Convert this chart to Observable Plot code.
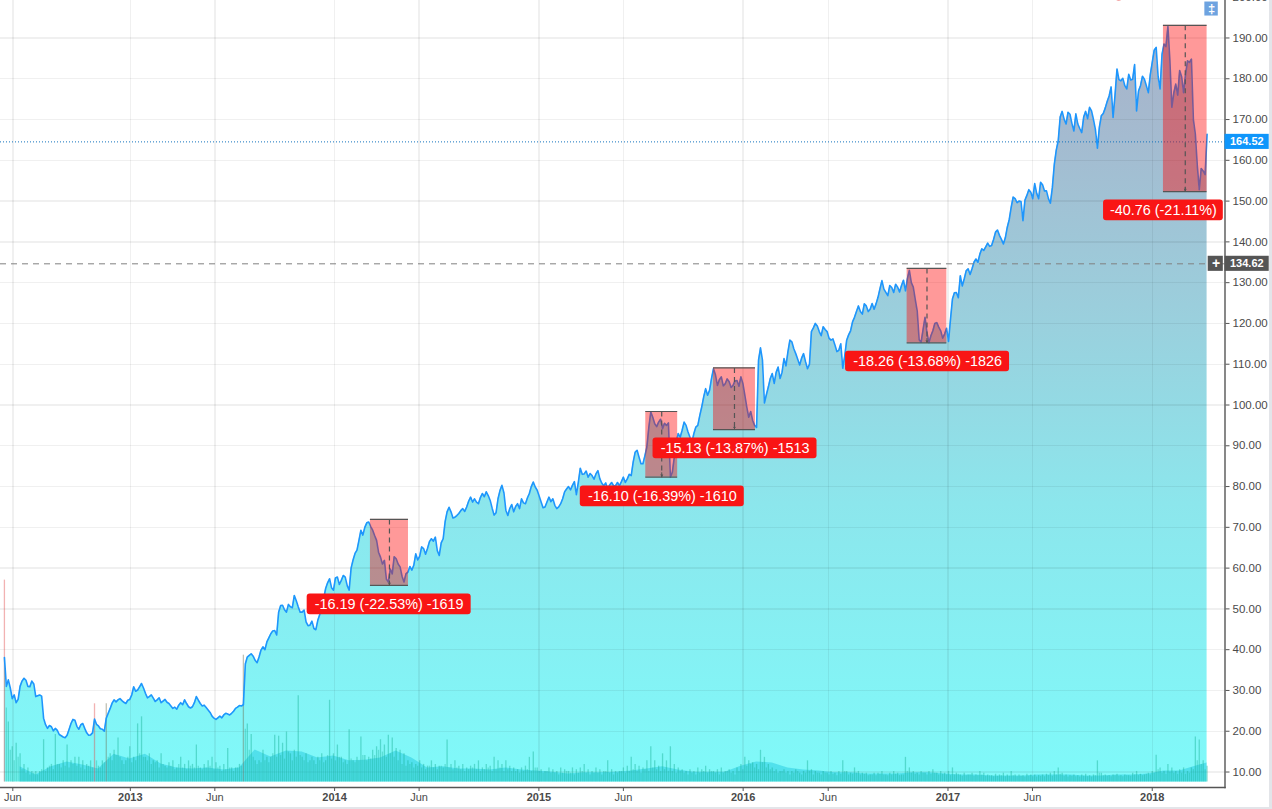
<!DOCTYPE html>
<html>
<head>
<meta charset="utf-8">
<style>
html,body{margin:0;padding:0;width:1272px;height:809px;overflow:hidden;background:#e3e5e9}
#panel{position:absolute;left:0;top:0;width:1268.5px;height:806.5px;background:#fff}
#chart{position:absolute;left:0;top:0;width:1272px;height:809px}
</style>
<script src="https://cdn.jsdelivr.net/npm/d3@7"></script>
<script src="https://cdn.jsdelivr.net/npm/@observablehq/plot@0.6"></script>
</head>
<body>
<div id="panel"></div>
<div id="chart"></div>
<script>
// Closes read at the start of each week, starting on the week of 2012-05-21
const closes = [
38.1,32.6,28.0,27.0,31.0,33.0,31.0,32.3,28.5,28.9,
23.2,20.7,21.1,20.7,19.2,18.6,19.0,21.9,22.7,20.5,
21.9,19.6,19.1,23.0,21.3,20.5,23.2,25.6,27.7,27.7,
27.5,26.8,27.8,30.9,30.1,31.7,29.3,28.5,28.1,27.7,
27.0,27.8,26.8,25.6,25.4,27.0,27.7,26.0,26.0,28.5,
26.8,26.4,25.2,23.7,22.9,23.7,24.0,24.2,24.4,25.6,
26.3,26.5,38.2,39.0,37.4,38.2,40.7,41.9,43.9,44.7,
49.2,50.9,49.2,50.5,53.3,50.5,49.2,46.8,46.0,45.2,
47.2,50.0,55.0,57.4,54.6,57.8,57.0,57.8,54.6,62.0,
64.4,69.3,70.0,71.3,69.3,66.8,62.7,61.9,56.6,58.6,
62.3,60.3,56.6,59.0,59.5,63.5,62.9,64.8,64.8,67.2,
67.6,63.1,67.2,73.8,73.8,72.5,73.4,74.6,75.0,77.4,
77.0,75.8,78.3,78.7,76.6,73.0,77.0,80.3,74.2,74.6,
73.8,75.8,77.0,75.8,78.3,81.1,79.1,76.2,75.0,77.4,
77.0,74.6,75.8,78.7,80.0,80.3,78.0,84.5,83.1,82.3,
82.7,83.1,81.9,80.2,79.4,81.0,80.2,80.2,82.3,81.9,
82.7,88.4,87.2,85.6,89.7,98.3,95.4,95.8,94.2,95.0,
82.3,87.2,93.0,93.8,95.0,92.1,93.0,95.0,99.5,104.0,
103.6,108.9,104.8,106.9,105.2,105.7,104.8,106.0,106.9,102.4,
97.0,96.2,94.5,114.0,100.5,104.4,107.7,108.0,106.5,111.4,
113.0,115.5,112.6,109.8,112.6,108.9,118.0,120.0,118.0,119.2,
118.0,115.9,114.7,113.4,109.0,115.9,118.2,121.5,124.3,122.3,
124.3,123.5,123.5,126.4,130.5,127.6,129.3,127.6,128.9,129.3,
128.0,133.0,128.9,123.1,115.4,121.5,115.3,118.2,120.2,118.2,
117.4,115.6,126.0,127.6,131.7,130.9,133.4,133.4,135.8,137.0,
137.9,139.7,139.1,142.4,141.6,139.5,143.6,148.5,150.6,150.0,
145.2,151.4,152.2,154.3,150.6,154.0,152.5,149.5,159.0,164.8,
172.0,168.9,171.3,167.2,168.9,166.8,172.0,173.0,170.0,163.0,
170.9,172.8,175.8,170.5,182.4,179.5,178.3,181.1,179.9,172.1,
178.3,179.9,176.6,184.0,187.7,177.5,188.5,192.8,173.0,178.7,
182.0,176.6,184.4,184.8,166.4,152.8,157.4,166.4];

// Closes read half a week later than each value above
const midCloses = [
31.0,30.6,28.9,27.8,32.3,32.5,30.9,31.6,28.7,28.6,
21.6,21.4,20.1,20.2,18.9,18.4,20.4,22.9,21.2,21.6,
20.7,19.0,19.6,21.7,20.6,20.0,24.4,26.9,27.2,28.0,
27.1,27.6,28.9,29.8,30.9,30.6,28.2,28.9,27.3,28.2,
27.4,27.1,26.2,25.9,26.4,26.5,26.8,25.7,27.0,27.6,
26.2,25.8,24.6,23.2,23.3,23.3,24.4,24.0,24.9,25.9,
26.2,36.5,38.6,38.4,36.8,39.9,40.0,42.9,44.6,43.6,
50.8,49.8,51.1,50.3,52.0,49.2,49.7,45.9,47.0,44.9,
48.6,52.6,56.4,55.2,57.6,56.0,58.2,55.7,60.0,63.6,
66.8,68.1,71.1,70.2,68.0,63.9,61.0,57.3,59.8,62.8,
61.0,58.0,58.6,60.4,60.7,62.0,65.2,63.4,66.5,66.6,
64.3,66.2,71.4,74.9,72.3,72.9,74.1,73.9,76.4,76.2,
76.2,77.3,77.5,77.8,74.7,73.6,79.0,78.5,72.9,75.6,
75.1,74.6,76.0,77.2,80.0,79.9,77.7,74.8,76.2,76.3,
75.4,75.0,77.0,79.4,79.2,81.2,81.0,83.0,83.8,83.2,
81.8,83.9,80.8,80.9,80.4,80.2,81.0,81.2,81.0,83.0,
86.0,88.9,85.6,87.6,94.5,97.0,94.7,96.5,95.5,95.6,
83.5,91.0,92.1,95.8,93.4,90.9,94.6,97.4,102.0,102.4,
106.5,107.4,106.2,104.7,106.4,104.3,105.9,104.6,105.3,99.5,
98.4,95.0,111.0,111.0,102.5,106.5,105.3,109.3,108.0,109.6,
115.9,113.8,111.2,111.5,110.6,110.0,118.9,119.4,117.0,118.5,
116.4,116.2,113.1,115.0,112.0,117.2,120.4,122.9,122.9,124.8,
122.9,124.9,124.8,128.5,128.4,126.8,128.8,129.6,127.7,130.6,
131.0,130.0,125.9,116.0,118.5,117.7,117.0,120.0,119.1,116.4,
118.8,121.0,127.5,126.3,129.2,132.9,132.0,135.0,135.0,138.3,
138.8,138.9,140.6,142.9,140.6,141.0,145.5,151.0,149.6,149.9,
150.2,152.8,150.6,151.9,154.6,152.5,150.6,153.3,162.5,170.6,
170.1,171.8,169.0,171.4,167.8,170.6,170.2,172.1,167.5,168.1,
171.5,174.4,178.0,176.0,179.8,180.1,177.5,179.7,183.5,177.0,
180.6,178.3,181.0,187.0,180.5,186.0,187.9,184.5,176.5,176.0,
180.5,181.0,184.0,170.0,158.7,158.0,156.5];

// Weekly peak volume, millions of shares
const volumes = [
573,170,100,110,80,50,40,30,30,30,
120,40,50,135,50,60,105,60,70,70,
60,50,60,222,45,60,222,80,90,125,
60,60,100,70,165,185,70,80,60,60,
80,45,55,60,40,70,50,60,50,105,
40,50,60,70,55,45,50,95,40,40,
50,360,165,135,60,60,90,70,70,133,
130,110,142,80,90,245,70,80,60,60,
70,80,60,232,80,105,70,60,148,60,
70,128,75,70,90,100,120,105,133,125,
95,90,80,60,55,50,60,50,45,60,
50,45,40,119,50,60,45,50,40,45,
50,60,40,50,45,70,60,50,60,45,
40,35,40,45,70,85,40,35,30,40,
35,30,40,35,30,40,35,40,50,35,
30,40,35,30,60,35,30,30,40,45,
70,50,45,40,60,100,60,45,80,60,
100,50,40,35,30,35,30,40,35,45,
35,30,35,40,30,35,30,40,50,70,
60,55,50,90,70,50,40,35,30,35,
30,30,35,25,30,60,35,30,25,30,
25,30,25,30,60,30,25,40,30,25,
25,20,25,25,30,20,25,30,25,20,
70,40,30,25,30,25,30,35,25,30,
25,30,40,25,20,25,20,25,20,30,
25,20,18,22,20,25,20,30,20,20,
18,22,20,20,18,20,22,25,30,40,
25,20,18,20,18,20,22,18,20,60,
25,20,18,20,22,18,20,18,25,30,
22,20,25,30,76,40,30,50,40,30,
35,40,30,40,128,119,60,45];

// Volume bars half a week later than each value above
const midVolumes = [
210,90,60,70,35,25,20,25,20,35,
30,45,35,50,40,45,40,50,45,40,
35,45,40,60,40,55,70,60,75,70,
50,70,55,60,80,70,60,50,55,40,
50,40,45,35,50,40,35,45,40,45,
35,40,45,35,40,30,35,40,30,40,
45,150,90,70,50,55,60,55,80,70,
75,65,85,60,70,75,60,55,70,50,
60,55,75,65,60,70,55,50,65,55,
60,75,60,65,75,90,85,70,80,70,
60,50,45,50,40,45,40,35,45,40,
35,45,50,40,35,40,35,30,35,40,
35,30,35,40,30,35,40,30,35,30,
30,25,30,35,30,40,30,25,30,25,
25,20,25,30,25,20,25,30,25,20,
25,25,20,30,25,20,25,30,25,30,
35,30,25,35,30,40,35,30,35,30,
30,25,30,25,20,25,20,25,30,25,
30,25,20,25,30,25,20,30,35,45,
50,40,35,55,40,35,30,25,30,25,
20,25,30,20,25,30,20,25,20,25,
20,22,18,22,30,20,22,25,20,22,
18,20,18,22,20,18,20,22,18,20,
30,25,22,20,25,20,22,25,20,22,
20,18,20,22,16,18,20,16,18,20,
16,18,15,16,18,15,16,18,15,16,
14,16,15,14,16,15,18,16,20,22,
16,14,16,15,14,16,15,14,18,25,
18,16,15,18,16,15,18,16,20,18,
18,22,20,25,35,25,22,28,25,22,
25,22,25,35,60,50,35];

// Volume moving average, one value every four weeks from week 4
const volumeAverage = [
43,20,43,57,48,37,79,65,79,51,40,37,40,34,40,91,71,88,85,68,
74,60,62,68,88,68,40,43,37,37,34,40,34,31,28,23,26,26,28,31,
37,43,34,28,28,28,45,57,54,40,34,31,26,26,23,23,23,26,26,23,
20,20,17,17,17,20,20,20,17,17,20,20,23,31,31,45,54];

const pinkWeeks = [0, 23];
const greyWeeks = [26, 61];

const xTicksMonth = ["2012-06-05","2013-06-01","2014-06-01","2015-06-01","2016-06-01","2017-06-01"];
const xTicksYear = ["2013-01-01","2014-01-01","2015-01-01","2016-01-01","2017-01-01","2018-01-01"];
const yTicks = [10,20,30,40,50,60,70,80,90,100,110,120,130,140,150,160,170,180,190,200];

const boxStart = ["2014-03-06","2015-07-11","2015-11-09","2016-10-20","2018-01-21"];
const boxEnd = ["2014-05-13","2015-09-06","2016-01-23","2016-12-30","2018-04-09"];
const boxTop = [71.95,98.40,109.10,133.48,193.10];
const boxBottom = [55.76,82.30,93.97,115.22,152.34];

const labelText = ["-16.19 (-22.53%) -1619","-16.10 (-16.39%) -1610","-15.13 (-13.87%) -1513","-18.26 (-13.68%) -1826","-40.76 (-21.11%)"];
const labelStart = ["2013-11-13","2015-03-16","2015-07-24","2016-07-02","2017-10-06"];
const labelEnd = ["2014-09-02","2016-01-03","2016-05-12","2017-04-21","2018-05-08"];
const labelHigh = [53.66,80.14,91.90,113.20,150.27];
const labelLow = [48.58,75.07,86.84,108.17,145.20];

const lastPrice = 164.52;
const crossPrice = 134.62;
const areaFloor = 7.55;
const volumeUnit = 0.0864;

const d = s => new Date(s + "T00:00:00Z");
const firstWeek = d("2012-05-21");
const weekDate = i => d3.utcDay.offset(firstWeek, 7 * i);
const midDate = i => d3.utcHour.offset(firstWeek, 24 * 7 * i + 84);
const xStart = d("2012-05-14"), xEnd = d("2018-05-11"), tagEnd = d("2018-07-29"), tagMid = d("2018-06-19");
const mid = (a, b) => new Date((d(a).getTime() + d(b).getTime()) / 2);

const prices = closes.flatMap((close, i) =>
  i < midCloses.length
    ? [{date: weekDate(i), close}, {date: midDate(i), close: midCloses[i]}]
    : [{date: weekDate(i), close}]);
const bars = volumes.map((v, i) => ({
  date: weekDate(i),
  top: areaFloor + v * volumeUnit,
  tone: pinkWeeks.includes(i) ? "#e04848" : greyWeeks.includes(i) ? "#6c6c4c" : "#12ad92"
}));
const midBars = midVolumes.map((v, i) => ({date: midDate(i), top: areaFloor + v * volumeUnit, tone: "#12ad92"}));
const averages = volumeAverage.map((v, k) => ({
  date: weekDate(Math.min(4 * (k + 1), closes.length - 1)),
  top: areaFloor + v * volumeUnit
}));
const boxes = boxStart.map((s, i) => ({
  x1: d(s), x2: d(boxEnd[i]), xm: mid(s, boxEnd[i]), top: boxTop[i], bottom: boxBottom[i], head: boxBottom[i] + 1.1
}));
const labels = labelText.map((text, i) => ({
  text, x1: d(labelStart[i]), x2: d(labelEnd[i]), xm: mid(labelStart[i], labelEnd[i]),
  y1: labelLow[i], y2: labelHigh[i], ym: (labelLow[i] + labelHigh[i]) / 2
}));

function gradientDefs() {
  const defs = d3.create("svg:defs");
  const g = defs.append("linearGradient").attr("id", "priceFill")
    .attr("x1", 0).attr("y1", 0).attr("x2", 0).attr("y2", 1);
  [[0, "#a8b2c8"], [0.15, "#a4bbd0"], [0.37, "#9bcedc"], [0.63, "#8ce6ec"], [1, "#7ffafa"]]
    .forEach(([o, c]) => g.append("stop").attr("offset", o).attr("stop-color", c));
  return defs.node();
}

const axisColor = "#555";
const textColor = "#4a4a4a";
const gridOver = "rgba(0,0,0,0.06)";

const chart = Plot.plot({
  width: 1272,
  height: 809,
  marginLeft: 0,
  marginTop: 0,
  marginRight: 47.5,
  marginBottom: 22,
  style: {fontFamily: "'Liberation Sans', Arial, sans-serif", fontSize: "11px", background: "transparent", overflow: "hidden"},
  x: {type: "utc", domain: [xStart, xEnd], range: [0, 1224.5]},
  y: {domain: [0, 200], range: [812.3, -3.3]},
  marks: [
    gradientDefs,
    Plot.areaY(prices, {x: "date", y1: () => areaFloor, y2: "close", fill: "url(#priceFill)"}),
    Plot.ruleY(yTicks, {stroke: gridOver, strokeWidth: 1.4, shapeRendering: "crispEdges"}),
    Plot.ruleX([...xTicksMonth, ...xTicksYear].map(d), {y1: () => areaFloor, y2: () => 200, stroke: gridOver, strokeWidth: 1.4, shapeRendering: "crispEdges"}),
    Plot.areaY(averages, {x: "date", y1: () => areaFloor, y2: "top", fill: "#18c4dc", fillOpacity: 0.45}),
    Plot.ruleX(midBars, {x: "date", y1: () => areaFloor, y2: "top", stroke: "tone", strokeOpacity: 0.34, strokeWidth: 1.3}),
    Plot.ruleX(bars, {x: "date", y1: () => areaFloor, y2: "top", stroke: "tone", strokeOpacity: 0.42, strokeWidth: 1.3}),
    Plot.line(prices, {x: "date", y: "close", stroke: "#1e96fc", strokeWidth: 1.6, curve: "linear"}),
    Plot.ruleY([lastPrice], {stroke: "#1474be", strokeDasharray: "1,2", strokeWidth: 1}),
    Plot.ruleY([crossPrice], {stroke: "#808080", strokeDasharray: "6,5", strokeWidth: 1}),
    Plot.rect(boxes, {x1: "x1", x2: "x2", y1: "bottom", y2: "top", fill: "#ff0000", fillOpacity: 0.4}),
    Plot.ruleY(boxes, {x1: "x1", x2: "x2", y: "top", stroke: "#555", strokeWidth: 1.2}),
    Plot.ruleY(boxes, {x1: "x1", x2: "x2", y: "bottom", stroke: "#555", strokeWidth: 1.2}),
    Plot.link(boxes, {x1: "xm", x2: "xm", y1: "top", y2: "bottom", stroke: "#555", strokeDasharray: "5,4", strokeWidth: 1.2}),
    Plot.arrow(boxes, {x1: "xm", x2: "xm", y1: "head", y2: "bottom", stroke: "#555", strokeWidth: 1, headLength: 8, insetEnd: 1}),
    Plot.rect(labels, {x1: "x1", x2: "x2", y1: "y1", y2: "y2", fill: "#f91515", rx: 3}),
    Plot.text(labels, {x: "xm", y: "ym", text: "text", fill: "white", fontSize: 14.4, textAnchor: "middle"}),
    Plot.frame({anchor: "right", stroke: axisColor, strokeWidth: 1.4}),
    Plot.frame({anchor: "bottom", stroke: axisColor, strokeWidth: 1.4}),
    Plot.axisY({anchor: "right", ticks: yTicks, tickSize: 4, tickPadding: 3.5, stroke: axisColor, fill: textColor, tickFormat: d3.format(".2f"), label: null, fontSize: 11.5}),
    Plot.axisX({anchor: "bottom", ticks: xTicksMonth.map(d), tickSize: 4, tickPadding: 2, stroke: axisColor, fill: textColor, tickFormat: () => "Jun", label: null, fontSize: 11}),
    Plot.axisX({anchor: "bottom", ticks: xTicksYear.map(d), tickSize: 4, tickPadding: 2, stroke: axisColor, fill: textColor, tickFormat: t => String(t.getUTCFullYear()), label: null, fontSize: 11, fontWeight: "bold"}),
    Plot.rect([lastPrice], {x1: () => xEnd, x2: () => tagEnd, y1: v => v - 1.85, y2: v => v + 1.85, fill: "#0f96fb"}),
    Plot.text([lastPrice], {x: () => tagMid, y: v => v, text: v => v.toFixed(2), fill: "white", fontSize: 11, fontWeight: "bold"}),
    Plot.rect([crossPrice], {x1: () => xEnd, x2: () => tagEnd, y1: v => v - 1.85, y2: v => v + 1.85, fill: "#555"}),
    Plot.text([crossPrice], {x: () => tagMid, y: v => v, text: v => v.toFixed(2), fill: "white", fontSize: 11, fontWeight: "bold"}),
    Plot.rect([crossPrice], {x1: () => d("2018-04-11"), x2: () => d("2018-05-08"), y1: v => v - 1.85, y2: v => v + 1.85, fill: "#555"}),
    Plot.text([crossPrice], {x: () => d("2018-04-25"), y: v => v, text: () => "+", fill: "white", fontSize: 14, fontWeight: "bold"}),
    Plot.rect([197.1], {x1: () => d("2018-04-05"), x2: () => d("2018-04-29"), y1: v => v - 1.72, y2: v => v + 1.72, fill: "#6ea3e0"}),
    Plot.text([197.1], {x: () => d("2018-04-17"), y: v => v, text: () => "‡", fill: "white", fontSize: 13, fontWeight: "bold"}),
    Plot.dot([200], {x: () => d("2017-11-02"), y: v => v, r: 3.5, fill: "#f08a8a"})
  ]
});
document.getElementById("chart").appendChild(chart);
</script>
</body>
</html>
